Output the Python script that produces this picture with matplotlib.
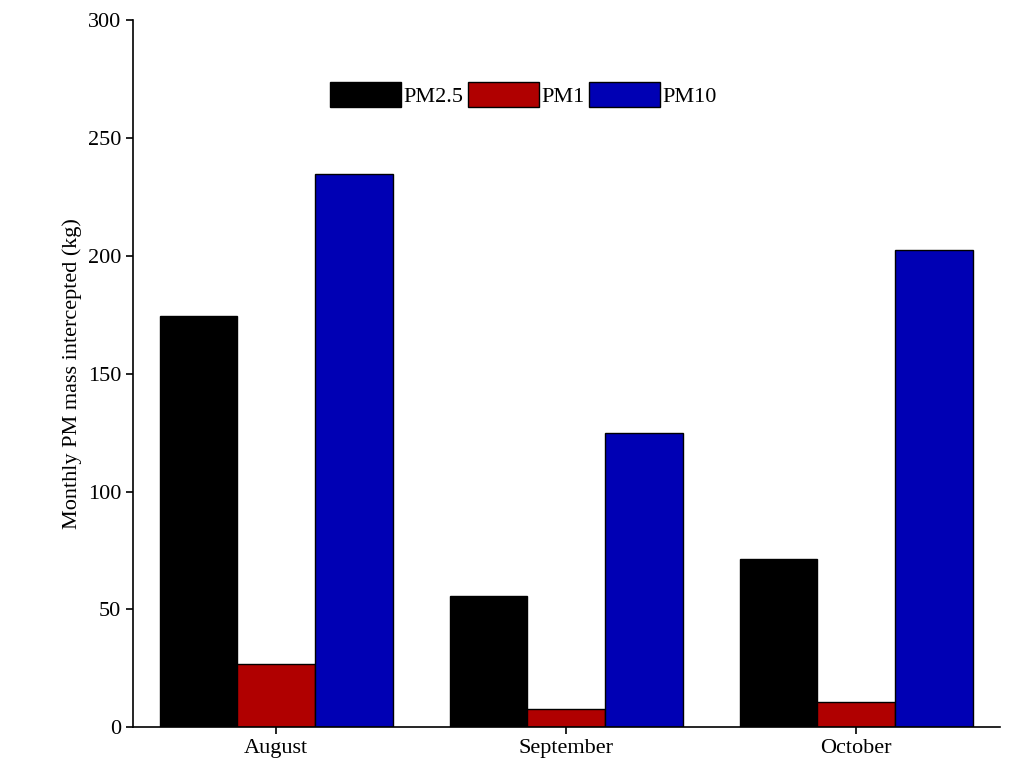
import matplotlib
matplotlib.use("Agg")
import matplotlib.pyplot as plt
import numpy as np

months = ["August", "September", "October"]
pm25 = [174.5, 55.6, 71.3]
pm1 = [26.7, 7.6, 10.6]
pm10 = [234.5, 124.8, 202.4]

plt.rcParams['font.family'] = ['Liberation Serif', 'DejaVu Serif']
fig = plt.figure(figsize=(10.24, 7.64), dpi=100)
ax = fig.add_axes([0.13, 0.048, 0.847, 0.926])
x = np.arange(len(months))
w = 0.268
ax.bar(x - w, pm25, w, color='black', edgecolor='black', label='PM2.5')
ax.bar(x, pm1, w, color='#b00000', edgecolor='black', label='PM1')
ax.bar(x + w, pm10, w, color='#0000b4', edgecolor='black', label='PM10')
ax.set_xlim(-0.493, 2.497)
ax.set_ylim(0, 300)
ax.set_xticks(x)
ax.set_xticklabels(months)
ax.set_yticks(range(0, 301, 50))
ax.tick_params(labelsize=16, direction='out', length=5, width=1.2)
for s in ['top', 'right']:
    ax.spines[s].set_visible(False)
for s in ['left', 'bottom']:
    ax.spines[s].set_linewidth(1.2)
ax.set_ylabel('Monthly PM mass intercepted (kg)', fontsize=16)
ax.legend(loc='upper center', bbox_to_anchor=(0.45, 0.94), ncol=3, frameon=False,
          fontsize=16, handlelength=3.2, handleheight=1.3, columnspacing=0.2, handletextpad=0.1)
fig.savefig('out.png', dpi=100)
